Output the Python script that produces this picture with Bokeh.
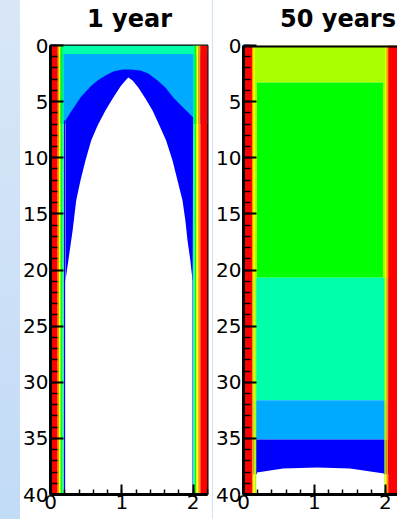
from bokeh.plotting import figure
from bokeh.models import Range1d, SingleIntervalTicker, Div, Span
from bokeh.layouts import row, column
from bokeh.embed import file_html
from bokeh.resources import INLINE

# ---------------- data (x in m, depth in m) ----------------
TITLES = ["1 year", "50 years"]
X_MAX = [2.2, 2.17]
DEPTH_MAX = 40
Y_TICK_STEP = 5
X_TICK_STEP = 1

# contour level colours (0 = white ... 8 = red)
PALETTE = ["#ffffff", "#0000ff", "#00aaff", "#00ffaa", "#00ff00",
           "#aaff00", "#ffff00", "#ff9900", "#ff0000"]

# ---- panel 1 : 1 year ----
P1_BAND_DEPTHS = [0.0, 0.75, 7.0]          # mint, light blue
P1_BAND_LEVELS = [3, 2]
P1_OUTER_X = [0.21, 0.28, 0.42, 0.56, 0.66, 0.77, 0.88, 1.01, 1.12, 1.26,
              1.37, 1.50, 1.61, 1.72, 1.83, 1.93, 2.00]
P1_OUTER_D = [6.68, 5.97, 4.63, 3.65, 3.12, 2.67, 2.32, 2.14, 2.14, 2.23,
              2.49, 3.12, 3.74, 4.63, 5.35, 5.97, 6.41]
P1_INNER_X = [0.21, 0.25, 0.31, 0.36, 0.42, 0.49, 0.57, 0.66, 0.77, 0.88,
              0.98, 1.05, 1.09, 1.15, 1.23, 1.33, 1.43, 1.52, 1.62, 1.71,
              1.78, 1.85, 1.89, 1.92, 1.96, 1.99]
P1_INNER_D = [20.94, 19.15, 16.48, 13.81, 12.03, 10.24, 8.46, 7.13, 5.79,
              4.63, 3.65, 3.12, 2.85, 3.12, 3.74, 4.72, 5.79, 7.04, 8.46,
              10.24, 12.03, 13.81, 15.59, 17.37, 19.15, 20.94]
P1_WALL_L_EDGES = [0.0, 0.10, 0.12, 0.14, 0.17, 0.185]
P1_WALL_L_LEVELS = [8, 7, 6, 4, 3]
P1_WALL_R_EDGES = [2.00, 2.02, 2.045, 2.07, 2.10, 2.20]
P1_WALL_R_LEVELS = [3, 4, 6, 7, 8]
P1_BLUE_LINES_X = [[0.185, 0.205], [1.99, 2.0]]
P1_BLUE_LINES_TOP = [6.68, 6.41]

# ---- panel 2 : 50 years ----
P2_BAND_DEPTHS = [0.0, 3.3, 20.7, 31.6, 35.1, 38.2]
P2_BAND_LEVELS = [5, 4, 3, 2, 1]
P2_GREEN_X = [0.19, 1.965]
P2_WHITE_X = [0.19, 0.56, 1.04, 1.50, 1.98]
P2_WHITE_D = [38.04, 37.68, 37.60, 37.68, 38.13]
P2_WALL_L_EDGES = [0.0, 0.12, 0.14, 0.16, 0.18]
P2_WALL_L_LEVELS = [8, 7, 6, 5]
P2_WALL_R_EDGES = [1.985, 2.0, 2.015, 2.04, 2.2]
P2_WALL_R_LEVELS = [5, 6, 7, 8]

FONT = "DejaVu Sans"


def make_fig(i, width, border_right):
    p = figure(width=width, height=484, output_backend="svg", toolbar_location=None,
               x_range=Range1d(0, X_MAX[i]), y_range=Range1d(DEPTH_MAX, 0),
               min_border_left=30, min_border_right=border_right,
               min_border_top=10, min_border_bottom=25,
               background_fill_color="white", border_fill_color="white")
    p.grid.visible = False
    p.xaxis.ticker = SingleIntervalTicker(interval=X_TICK_STEP, num_minor_ticks=5)
    p.yaxis.ticker = SingleIntervalTicker(interval=Y_TICK_STEP, num_minor_ticks=5)
    for ax in (p.xaxis[0], p.yaxis[0]):
        ax.axis_line_width = 3
        ax.axis_line_color = "black"
        ax.major_tick_out = 0
        ax.minor_tick_out = 0
        ax.major_tick_line_width = 2
        ax.minor_tick_line_width = 1.5
        ax.major_tick_line_color = "black"
        ax.minor_tick_line_color = "black"
        ax.major_label_text_font = FONT
        ax.major_label_text_font_size = "20px"
        ax.major_label_text_color = "black"
        ax.major_label_standoff = 2
    p.xaxis.major_label_standoff = 0
    p.yaxis.major_tick_in = 13
    p.yaxis.minor_tick_in = 7
    p.xaxis.major_tick_in = 10
    p.xaxis.minor_tick_in = 5
    return p


def title_div(i, width):
    html = ('<div style="font-family: \'DejaVu Sans\'; font-weight: bold; '
            'font-size: 24px; line-height: 24px; padding-top: 7px; '
            'padding-left: 67px; white-space: nowrap; color: black;">'
            + TITLES[i] + '</div>')
    return Div(text=html, width=width, height=35, margin=0)


def walls(p, edges, levels, top=0, bottom=DEPTH_MAX):
    p.quad(left=edges[:-1], right=edges[1:], top=[top] * len(levels),
           bottom=[bottom] * len(levels), fill_color=[PALETTE[l] for l in levels],
           line_color=None)


# ---------------- panel 1 ----------------
p1 = make_fig(0, 192, 5)
p1.outline_line_color = "black"
p1.outline_line_width = 2
p1.quad(left=[0, 0], right=[X_MAX[0]] * 2, top=P1_BAND_DEPTHS[:-1],
        bottom=P1_BAND_DEPTHS[1:], fill_color=[PALETTE[l] for l in P1_BAND_LEVELS],
        line_color=None)
bx = P1_OUTER_X + [P1_INNER_X[-1], P1_INNER_X[0]]
bd = P1_OUTER_D + [P1_INNER_D[-1], P1_INNER_D[0]]
p1.patch(bx, bd, fill_color=PALETTE[1], line_color=None)
wx = P1_INNER_X + [P1_INNER_X[-1], P1_INNER_X[0]]
wd = P1_INNER_D + [DEPTH_MAX, DEPTH_MAX]
p1.patch(wx, wd, fill_color=PALETTE[0], line_color=None)
for (l, r), t in zip(P1_BLUE_LINES_X, P1_BLUE_LINES_TOP):
    p1.quad(left=[l], right=[r], top=[t], bottom=[DEPTH_MAX], fill_color=PALETTE[1],
            line_color=None)
walls(p1, P1_WALL_L_EDGES, P1_WALL_L_LEVELS)
walls(p1, P1_WALL_R_EDGES, P1_WALL_R_LEVELS)

# ---------------- panel 2 ----------------
p2 = make_fig(1, 184, 0)
p2.outline_line_color = None
n = len(P2_BAND_LEVELS)
p2.quad(left=[0] * n, right=[X_MAX[1] + 0.1] * n, top=P2_BAND_DEPTHS[:-1],
        bottom=P2_BAND_DEPTHS[1:], fill_color=[PALETTE[l] for l in P2_BAND_LEVELS],
        line_color=None)
p2.quad(left=[0, P2_GREEN_X[1]], right=[P2_GREEN_X[0], X_MAX[1] + 0.1],
        top=[P2_BAND_DEPTHS[1]] * 2, bottom=[P2_BAND_DEPTHS[2]] * 2,
        fill_color=PALETTE[5], line_color=None)
p2.patch(P2_WHITE_X + [P2_WHITE_X[-1], P2_WHITE_X[0]],
         P2_WHITE_D + [DEPTH_MAX, DEPTH_MAX], fill_color=PALETTE[0], line_color=None)
walls(p2, P2_WALL_L_EDGES, P2_WALL_L_LEVELS)
walls(p2, P2_WALL_R_EDGES, P2_WALL_R_LEVELS)
p2.add_layout(Span(location=0, dimension="width", line_color="black", line_width=4))

left_strip = Div(text="", width=20, height=519, margin=0,
                 styles={"background": "linear-gradient(#d9e7f8, #c2dbf6)"})
sep = Div(text="", width=1, height=519, margin=0,
          styles={"background": "#cfe2f7"})

col1 = column(title_div(0, 192), p1, spacing=0)
col2 = column(title_div(1, 184), p2, spacing=0)
layout = row(left_strip, col1, sep, col2, spacing=0)

open("out.html", "w").write(file_html(layout, INLINE))
